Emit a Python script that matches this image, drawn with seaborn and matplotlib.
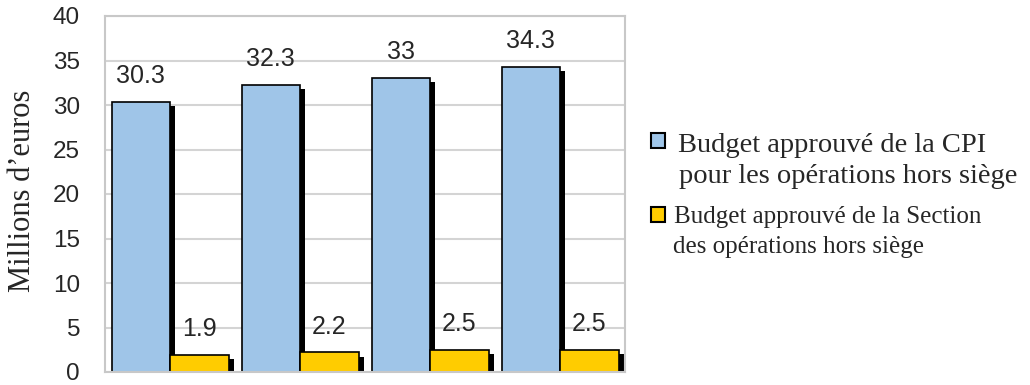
import matplotlib
matplotlib.use("Agg")
import matplotlib.pyplot as plt
import matplotlib.patheffects as pe
from matplotlib.patches import Rectangle
import seaborn as sns
import pandas as pd

categories = ["1", "2", "3", "4"]
series_names = ["Budget approuvé de la CPI pour les opérations hors siège",
                "Budget approuvé de la Section des opérations hors siège"]
legend_lines = [["Budget approuvé de la CPI", "pour les opérations hors siège"],
                ["Budget approuvé de la Section", "des opérations hors siège"]]
cpi_values = [30.3, 32.3, 33.0, 34.3]
section_values = [1.9, 2.2, 2.5, 2.5]
y_ticks = [0, 5, 10, 15, 20, 25, 30, 35, 40]
y_label = "Millions d’euros"

df = pd.DataFrame({
    "cat": categories * 2,
    "value": cpi_values + section_values,
    "series": [series_names[0]] * 4 + [series_names[1]] * 4,
})

sns.set_style("white")
plt.rcParams['font.family'] = ['Liberation Sans', 'DejaVu Sans']
SERIF = ['Liberation Serif', 'DejaVu Serif']
W, H = 1030, 385

fig = plt.figure(figsize=(10.3, 3.85), dpi=100)
ax = fig.add_axes([105/W, 13/H, 520/W, 356/H])

colors = ["#9fc5e8", "#ffcc00"]
sns.barplot(data=df, x="cat", y="value", hue="series", palette=colors,
            width=0.9, edgecolor="black", linewidth=1.2, ax=ax, legend=False,
            saturation=1, errorbar=None)

shadow = [pe.SimplePatchShadow(offset=(3.8, -3.0), shadow_rgbFace="black", alpha=1.0), pe.Normal()]
for p in ax.patches:
    p.set_path_effects(shadow)

for cont in ax.containers:
    ax.bar_label(cont, labels=[f"{v:g}" for v in cont.datavalues], padding=10,
                 fontsize=18, family=['Liberation Sans', 'DejaVu Sans'])

ax.set_xlim(-0.5, 3.5)
ax.set_ylim(0, 40)
ax.set_yticks(y_ticks)
ax.set_xticks([])
ax.set_xlabel("")
ax.set_ylabel("")
ax.tick_params(axis="y", labelsize=17.5, length=5, color="#c8c8c8", width=1.5, pad=13)
ax.yaxis.grid(True, color="#d4d4d4", linewidth=1.5)
ax.set_axisbelow(True)
for s in ax.spines.values():
    s.set_color("#c8c8c8")
    s.set_linewidth(1.5)

fig.text(23/W, 1 - 191/H, y_label, rotation=90, ha="center", va="center",
         family=SERIF, fontsize=22)

# legend drawn as patches + text in figure pixel space
marker_tops = [133, 207]
line_baselines = [[152, 183], [223, 253]]
line_x = [[678, 679], [674, 673]]
sizes = [20.5, 18]
for i in range(2):
    fig.patches.append(Rectangle((651/W, 1 - (marker_tops[i] + 15)/H), 14/W, 15/H,
                                 transform=fig.transFigure, facecolor=colors[i],
                                 edgecolor="black", linewidth=1.5))
    for j, line in enumerate(legend_lines[i]):
        fig.text(line_x[i][j]/W, 1 - line_baselines[i][j]/H, line, ha="left",
                 va="baseline", family=SERIF, fontsize=sizes[i])

fig.savefig("out.png", dpi=100)
